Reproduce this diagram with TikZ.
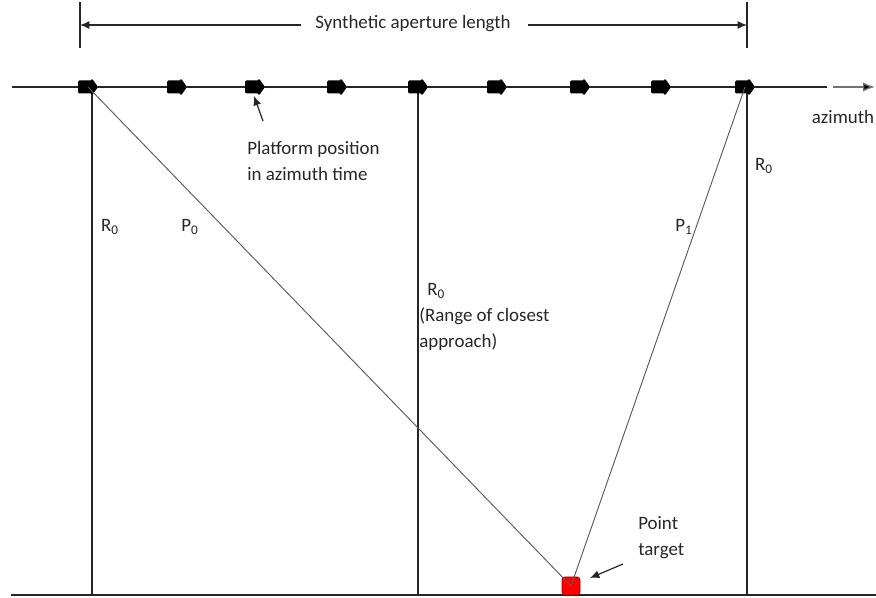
\documentclass[tikz,border=0pt]{standalone}
\usepackage{fontspec}
\setmainfont{Carlito}
\usetikzlibrary{arrows.meta}
\begin{document}
\begin{tikzpicture}[x=0.75pt,y=-0.75pt,
  lbl/.style={font=\fontsize{14.2pt}{19.5pt}\selectfont, inner sep=0pt, text=black!85},
  platpt/.style={inner sep=0pt, minimum size=0pt},
  track/.style={line width=0.9pt, black!85},
  ray/.style={line width=0.7pt, black!65},
  dim/.style={line width=0.9pt, black!85},
  tip/.style={-{Latex[length=7pt,width=6pt]}}
]
\useasboundingbox (0,0) rectangle (876,598);
% ground and track lines
\coordinate (trackL) at (12,87);
\coordinate (trackR) at (827,87);
\coordinate (groundL) at (11,595);
\coordinate (groundR) at (876,595);
\draw[track] (trackL) -- (trackR);
\draw[track] (groundL) -- (groundR);
% azimuth arrow
\coordinate (azA) at (833,87);
\coordinate (azB) at (875,87);
\draw[line width=1pt, black!55, -{Latex[length=9pt,width=7pt,fill=black]}] (azA) -- (azB);
\node[lbl] (az) at (843,117) {azimuth};
% vertical range lines
\coordinate (v1t) at (92,87);   \coordinate (v1b) at (92,595);
\coordinate (v2t) at (418,87);  \coordinate (v2b) at (418,595);
\coordinate (v3t) at (747,87);  \coordinate (v3b) at (747,595);
\draw[track] (v1t) -- (v1b);
\draw[track] (v2t) -- (v2b);
\draw[track] (v3t) -- (v3b);
% platforms (block arrows)
\foreach \n/\x in {1/88,2/177,3/255,4/337,5/418,6/497,7/580,8/661,9/745}{
  \node[platpt] (p\n) at (\x,87) {};
  \fill[black, rounded corners=1pt] ([shift={(-10,-6.5)}]p\n.center) -- ([shift={(4,-6.5)}]p\n.center)
     -- ([shift={(4,-8.5)}]p\n.center) -- ([shift={(10,0)}]p\n.center) -- ([shift={(4,8.5)}]p\n.center)
     -- ([shift={(4,6.5)}]p\n.center) -- ([shift={(-10,6.5)}]p\n.center) -- cycle;
}
% target
\node[draw=red!60!black, fill=red, rounded corners=2pt, minimum size=13.5pt, inner sep=0pt] (tgt) at (571,586) {};
% slant ranges
\draw[ray] (p1.center) -- (tgt.center);
\draw[ray] (p9.center) -- (tgt.center);
% dimension
\coordinate (dL1) at (80,2);   \coordinate (dL2) at (80,48);
\coordinate (dR1) at (747,2);  \coordinate (dR2) at (747,48);
\draw[dim] (dL1) -- (dL2);
\draw[dim] (dR1) -- (dR2);
\node[lbl] (sal) at (413,24) {Synthetic aperture length};
\coordinate (dA) at (80,25);
\coordinate (dB) at (747,25);
\coordinate (dAi) at (301,25);
\coordinate (dBi) at (528,25);
\draw[dim, tip] (dAi) -- (dA);
\draw[dim, tip] (dBi) -- (dB);
% platform label
\node[lbl, align=left, anchor=west] (pp) at (247,161) {Platform position\\in azimuth  time};
\coordinate (ppa) at (263,121);
\coordinate (ppt) at (254,96);
\draw[line width=0.9pt, black!85, tip] (ppa) -- (ppt);
% range labels
\node[lbl] (r1) at (110,227) {R\textsubscript{0}};
\node[lbl] (pz) at (190,227) {P\textsubscript{0}};
\node[lbl] (p1l) at (684,227) {P\textsubscript{1}};
\node[lbl] (r3) at (764,166) {R\textsubscript{0}};
\node[lbl, anchor=west] (r2) at (427,291) {R\textsubscript{0}};
\node[lbl, align=left, anchor=west] (rca) at (419,329) {(Range of closest\\approach)};
% point target
\node[lbl, align=left, anchor=west] (pt) at (638,538) {Point\\target};
\coordinate (pta) at (623,564);
\coordinate (ptb) at (590,578);
\draw[line width=0.9pt, black!85, tip] (pta) -- (ptb);
\end{tikzpicture}
\end{document}
